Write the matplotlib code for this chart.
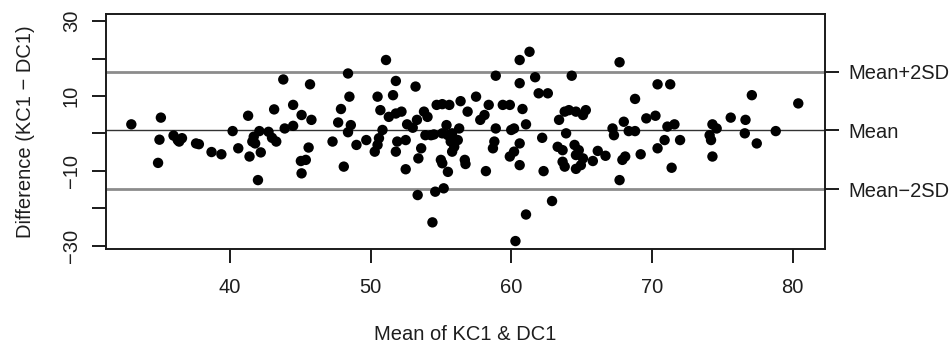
import matplotlib
matplotlib.use("Agg")
import matplotlib.pyplot as plt

# Mean of KC1 & DC1
mean_vals = [
    33.0, 35.1, 35.0, 34.9, 36.0, 36.3, 36.6, 36.4, 37.6, 37.8, 38.7, 39.4,
    40.2, 40.6, 41.3, 41.4, 42.0, 42.1, 41.7, 41.8, 41.6, 42.2, 42.75, 43.0,
    43.3, 43.15, 43.8, 43.9, 44.5, 44.5, 45.1, 45.7, 45.8, 45.6, 45.4, 45.05,
    45.1, 47.3, 47.7, 47.9, 48.1, 48.4, 48.5,
    48.6, 48.4, 49.0, 49.7, 51.1, 50.5, 50.7, 50.85, 50.6, 50.5, 50.3, 51.8,
    51.6, 51.3, 51.8, 52.2, 51.9, 52.5, 51.8, 52.5, 53.2, 52.6, 53.0, 53.3,
    53.8, 54.05, 53.6, 53.4, 53.9, 54.3, 54.5, 53.35, 54.4, 54.6, 55.2, 54.7,
    55.1, 55.6, 55.4, 55.1, 55.5, 55.8, 55.7, 56.2, 55.95, 55.8, 55.0, 55.1,
    55.5, 56.4, 56.3, 56.7, 56.75, 56.9,
    57.5, 57.8, 58.1, 58.4, 58.9, 58.9, 58.8, 58.7, 58.2, 59.4, 59.9, 60.0,
    60.2, 59.9, 60.2, 60.6, 60.6, 60.6, 61.3, 60.6, 60.8, 61.05, 61.7, 61.95,
    62.6, 62.2, 62.3, 61.05, 60.3, 62.9, 64.3, 63.4, 63.8, 64.1, 63.9, 63.3,
    63.65, 63.65, 63.8, 64.6, 65.1, 65.3, 64.5, 64.8, 64.6, 65.1, 64.95, 64.6,
    65.8, 66.15, 66.7, 67.7, 67.7, 67.9, 68.1, 67.2, 67.3, 68.0, 68.35, 68.8,
    68.8, 69.2, 69.6, 70.25, 70.4, 71.3, 70.4, 70.9, 71.1, 71.6, 72.0, 71.4,
    74.3, 74.6, 74.1, 74.2, 74.3, 75.6, 76.65, 76.6, 77.1, 77.45, 78.8, 80.4,
]

# Difference (KC1 - DC1)
diff_vals = [
    2.4, 4.2, -1.7, -7.9, -0.6, -1.8, -1.3, -2.2, -2.7, -2.9, -5.0, -5.6,
    0.6, -4.0, 4.7, -6.2, -12.5, 0.6, -0.9, -2.7, -2.2, -5.1, 0.4, -1.2,
    -2.2, 6.4, 14.4, 1.3, 2.0, 7.6, 4.9, 13.1, 3.6, -3.8, -7.1, -7.4,
    -10.7, -2.2, 2.9, 6.5, -8.9, 16.0, 9.8,
    2.2, 0.3, -3.1, -1.8, 19.6, 9.8, 6.2, 0.9, -1.3, -3.1, -4.9, 14.0,
    10.2, 4.4, 5.3, 5.8, -2.2, -1.8, -4.9, -9.6, 12.5, 2.4, 1.5, 3.6,
    5.8, 4.4, -4.0, -6.7, -0.5, -0.5, -0.3, -16.5, -23.8, -15.6, -14.7, 7.6,
    7.8, 7.6, 2.2, 0.0, -0.5, 0.0, -2.2, -1.8, -3.6, -4.9, -7.1, -8.0,
    -10.3, 8.6, 1.3, -7.1, -8.2, 5.8,
    9.8, 3.6, 4.9, 7.6, 15.4, 1.3, -2.2, -4.0, -10.1, 7.6, 7.6, 0.9,
    1.3, -6.2, -4.9, -2.7, -8.5, 19.6, 21.8, 13.4, 6.5, 2.4, 15.0, 10.7,
    10.7, -1.2, -10.1, -21.7, -28.8, -18.1, 15.4, 3.6, 5.8, 6.2, 0.0, -3.6,
    -4.5, -7.6, -8.9, 5.8, 4.9, 6.2, -3.1, -4.5, -5.8, -6.7, -8.5, -9.5,
    -7.4, -4.7, -6.0, 19.0, -12.5, -7.1, -6.2, 1.3, -0.5, 3.1, 0.6, 0.6,
    9.2, -5.6, 4.0, 4.7, 13.1, 13.1, -4.0, -1.8, 1.8, 2.4, -1.8, -9.2,
    2.4, 1.3, -0.5, -1.8, -6.2, 4.2, 3.6, 0.0, 10.2, -2.7, 0.6, 8.0,
]

# Reference lines
line_levels = [16.5, 0.8, -14.9]
line_labels = ["Mean+2SD", "Mean", "Mean\u22122SD"]

x_ticks = [40, 50, 60, 70, 80]
y_ticks = [-30, -20, -10, 0, 10, 20, 30]
y_tick_labels = ["\u221230", "", "\u221210", "", "10", "", "30"]

plt.rcParams['font.family'] = ['Liberation Sans', 'DejaVu Sans']
txt = '#1e1e1e'
FS = 14.5

fig = plt.figure(figsize=(9.53, 3.47), dpi=100)
ax = fig.add_axes([106/953, 1-249.3/347, (825-106)/953, (249.3-14)/347])

ax.axhline(line_levels[0], color='#8c8c8c', lw=2.0, zorder=1)
ax.axhline(line_levels[1], color='#333333', lw=1.0, zorder=1)
ax.axhline(line_levels[2], color='#8c8c8c', lw=2.0, zorder=1)

ax.scatter(mean_vals, diff_vals, s=56, color='black', edgecolors='none', zorder=3)

ax.set_xlim(31.2, 82.3)
ax.set_ylim(-31.0, 31.9)
ax.set_xticks(x_ticks)
ax.set_xticklabels([str(v) for v in x_ticks])
ax.set_yticks(y_ticks)
ax.set_yticklabels(y_tick_labels, rotation=90, va='center')

for s in ax.spines.values():
    s.set_linewidth(1.4)
    s.set_color('#1a1a1a')

ax.tick_params(axis='x', direction='out', length=10, width=1.4, pad=11,
               labelsize=FS, labelcolor=txt, color='#1a1a1a')
ax.tick_params(axis='y', direction='out', length=10, width=1.4, pad=8,
               labelsize=FS, labelcolor=txt, color='#1a1a1a')

ax.set_xlabel("Mean of KC1 & DC1", fontsize=FS, color=txt)
ax.xaxis.set_label_coords(0.5, -0.322)
ax.set_ylabel("Difference (KC1 \u2212 DC1)", fontsize=FS, color=txt)
ax.yaxis.set_label_coords(-0.099, 0.5)

ax2 = ax.twinx()
ax2.set_ylim(ax.get_ylim())
ax2.set_yticks(line_levels)
ax2.set_yticklabels(line_labels)
ax2.tick_params(axis='y', direction='out', length=10, width=1.4, pad=7,
                labelsize=FS, labelcolor=txt, color='#1a1a1a')
for s in ax2.spines.values():
    s.set_visible(False)

fig.savefig("out.png", dpi=100, facecolor='white')
